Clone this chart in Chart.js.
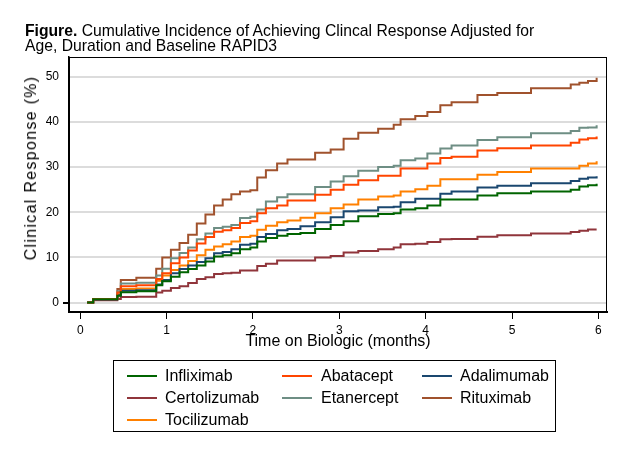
<!DOCTYPE html>
<html>
<head>
<meta charset="utf-8">
<script src="https://cdn.jsdelivr.net/npm/chart.js@4.4.0/dist/chart.umd.min.js"></script>
<style>
  body { margin: 0; background: #fff; }
  #wrap { position: relative; width: 630px; height: 461px; font-family: "Liberation Sans", Arial, sans-serif; color: #000; }
  #cif { position: absolute; left: 0; top: 0; }
  #title { position: absolute; left: 25px; top: 23px; font-size: 15.7px; line-height: 15px; white-space: nowrap; }
  #ytitle { position: absolute; left: 31px; top: 168px; font-size: 16px; letter-spacing: 1.3px; white-space: nowrap;
            transform: translate(-50%, -50%) rotate(-90deg); }
  #legend { position: absolute; left: 113px; top: 360px; width: 441px; height: 70px; border: 1px solid #000; }
  .item { position: absolute; height: 18px; line-height: 18px; font-size: 16px; white-space: nowrap; }
  .item span.swatch { position: absolute; top: 8px; width: 30px; height: 2px; }
  .item span.label { position: absolute; top: 0; }
</style>
</head>
<body>
<div id="wrap">
  <canvas id="cif" width="630" height="461"></canvas>
  <div id="title"><b>Figure.</b> Cumulative Incidence of Achieving Clincal Response Adjusted for<br>Age, Duration and Baseline RAPID3</div>
  <div id="ytitle">Clinical Response (%)</div>
  <div id="legend"></div>
</div>
<script>
// step times (months) and cumulative incidence (%)
const months = [0.08, 0.15, 0.43, 0.47, 0.65, 0.88, 0.95, 1.05, 1.15, 1.25, 1.35, 1.45, 1.55, 1.65, 1.75, 1.85, 1.97, 2.05, 2.15, 2.28,
                2.4, 2.55, 2.72, 2.9, 3.05, 3.22, 3.45, 3.63, 3.71, 3.88, 4.02, 4.17, 4.3, 4.6, 4.83, 5.22, 5.68, 5.78, 5.88, 5.98];

const infliximab   = [0, 0.7, 1.5, 2.3, 2.5, 3.8, 4.7, 5.7, 6.7, 7.4, 8.2, 9.1, 10.2, 10.5, 10.9, 11.8, 12.2, 13.5, 14.3, 14.8,
                      15.2, 15.4, 16.3, 17.2, 18.0, 19.1, 19.6, 19.8, 20.6, 20.9, 21.5, 22.8, 22.8, 23.7, 24.2, 24.6, 25.0, 25.7, 26.0, 26.3];
const abatacept    = [0, 0.8, 2.2, 3.6, 3.8, 5.2, 6.5, 8.7, 10.0, 11.5, 13.1, 14.5, 15.7, 16.0, 16.5, 17.6, 18.0, 19.8, 20.9, 21.5,
                      22.6, 22.6, 23.9, 25.0, 26.1, 27.1, 28.1, 28.1, 29.7, 29.7, 30.8, 32.0, 32.3, 33.7, 34.2, 34.8, 35.4, 36.1, 36.4, 36.8];
const adalimumab   = [0, 0.7, 1.6, 2.6, 2.7, 4.0, 5.0, 6.5, 7.4, 8.2, 9.0, 9.8, 10.9, 11.2, 11.8, 12.8, 13.0, 14.5, 15.2, 16.0,
                      16.3, 16.9, 17.8, 18.9, 20.2, 20.4, 21.1, 21.2, 22.2, 23.0, 23.0, 24.1, 24.6, 25.5, 25.9, 26.4, 26.9, 27.4, 27.7, 28.0];
const certolizumab = [0, 0.5, 0.8, 1.2, 1.3, 2.2, 2.6, 3.2, 3.6, 4.3, 5.2, 5.6, 6.3, 6.5, 6.6, 7.1, 7.1, 8.1, 8.6, 9.3,
                      9.3, 9.3, 10.0, 10.3, 11.1, 11.4, 11.8, 12.2, 12.9, 13.0, 13.4, 14.0, 14.1, 14.6, 14.9, 15.3, 15.6, 15.9, 16.2, 16.2];
const etanercept   = [0, 0.8, 2.5, 4.2, 4.4, 6.0, 7.5, 9.8, 11.0, 12.2, 14.0, 15.3, 16.5, 16.8, 17.2, 18.7, 19.0, 20.6, 22.4, 23.3,
                      24.0, 24.0, 25.6, 26.8, 28.0, 29.2, 30.0, 30.3, 31.5, 31.9, 33.0, 34.1, 34.8, 36.0, 36.6, 37.5, 38.0, 38.7, 38.8, 39.3];
const rituximab    = [0, 0.8, 3.0, 5.0, 5.5, 7.5, 10.0, 11.7, 13.2, 15.0, 17.5, 19.5, 21.5, 22.8, 24.0, 24.6, 24.9, 27.7, 29.3, 30.8,
                      31.7, 31.7, 33.2, 33.9, 36.3, 37.6, 38.5, 39.4, 40.6, 41.3, 42.2, 43.7, 44.4, 46.0, 46.4, 47.5, 48.3, 48.7, 49.1, 49.8];
const tocilizumab  = [0, 0.8, 1.8, 3.0, 3.1, 4.8, 6.0, 7.2, 8.2, 9.2, 10.5, 11.7, 12.4, 12.9, 13.5, 14.5, 14.8, 16.1, 17.0, 17.8,
                      18.2, 18.8, 19.8, 20.9, 21.7, 22.8, 23.5, 23.7, 24.6, 25.1, 25.9, 27.3, 27.3, 28.3, 28.9, 29.7, 29.7, 30.3, 30.8, 31.3];

const seriesNames  = ["Infliximab", "Abatacept", "Adalimumab", "Certolizumab", "Etanercept", "Rituximab", "Tocilizumab"];
const seriesValues = [infliximab, abatacept, adalimumab, certolizumab, etanercept, rituximab, tocilizumab];
const seriesColors = ["#006400", "#ff4500", "#1a476f", "#90353b", "#6e8e84", "#a0522d", "#ff8000"];

const xTicks = [0, 1, 2, 3, 4, 5, 6];
const yTicks = [0, 10, 20, 30, 40, 50];

const family = '"Liberation Sans", Arial, sans-serif';

const datasets = seriesNames.map((name, i) => ({
  label: name,
  data: months.map((t, j) => ({ x: t, y: seriesValues[i][j] })),
  borderColor: seriesColors[i],
  backgroundColor: seriesColors[i],
  borderWidth: 2,
  pointRadius: 0,
  stepped: true,
  fill: false
}));

// plot region box
const frame = {
  id: "frame",
  afterDraw(chart) {
    const { ctx, chartArea: a } = chart;
    ctx.save();
    ctx.strokeStyle = "#000";
    ctx.lineWidth = 1;
    ctx.strokeRect(a.left + 0.5, a.top + 0.5, a.right - a.left - 1, a.bottom - a.top);
    ctx.restore();
  }
};

new Chart(document.getElementById("cif"), {
  type: "line",
  data: { datasets },
  plugins: [frame],
  options: {
    responsive: false,
    animation: false,
    layout: { padding: { left: 0, right: 23, top: 57, bottom: 109 } },
    plugins: { legend: { display: false }, title: { display: false }, tooltip: { enabled: false } },
    scales: {
      x: {
        type: "linear",
        min: -0.13,
        max: 6.1,
        afterBuildTicks: s => { s.ticks = xTicks.map(v => ({ value: v })); },
        afterFit: s => { s.height = 40; },
        grid: { drawOnChartArea: false, tickLength: 7, tickColor: "#000", lineWidth: 1 },
        border: { color: "#000", width: 2 },
        ticks: { padding: 4, color: "#000", maxRotation: 0, font: { size: 12, family } },
        title: { display: true, text: "Time on Biologic (months)", color: "#000",
                 font: { size: 16, family }, padding: { top: 0, bottom: 1 } }
      },
      y: {
        min: -2.1,
        max: 54.4,
        afterBuildTicks: s => { s.ticks = yTicks.map(v => ({ value: v })); },
        afterFit: s => { s.width = 69; },
        grid: {
          color: "#dcdcdc",
          lineWidth: 2,
          tickLength: 6,
          tickColor: c => (c.tick && c.tick.value === 0 ? "#000" : "rgba(0,0,0,0)")
        },
        border: { color: "#000", width: 1.5 },
        ticks: { padding: 4, color: "#000", font: { size: 12, family } }
      }
    }
  }
});

// legend: three columns, filled row by row
const legend = document.getElementById("legend");
const colSwatch = [13, 168, 308];
const colText = [51, 207, 346];
const rowTop = [6, 28, 50];
seriesNames.forEach((name, i) => {
  const col = i % 3, row = Math.floor(i / 3);
  const item = document.createElement("div");
  item.className = "item";
  item.style.left = "0px";
  item.style.top = rowTop[row] + "px";
  item.innerHTML =
    '<span class="swatch" style="left:' + colSwatch[col] + 'px;background:' + seriesColors[i] + '"></span>' +
    '<span class="label" style="left:' + colText[col] + 'px">' + name + '</span>';
  legend.appendChild(item);
});
</script>
</body>
</html>
